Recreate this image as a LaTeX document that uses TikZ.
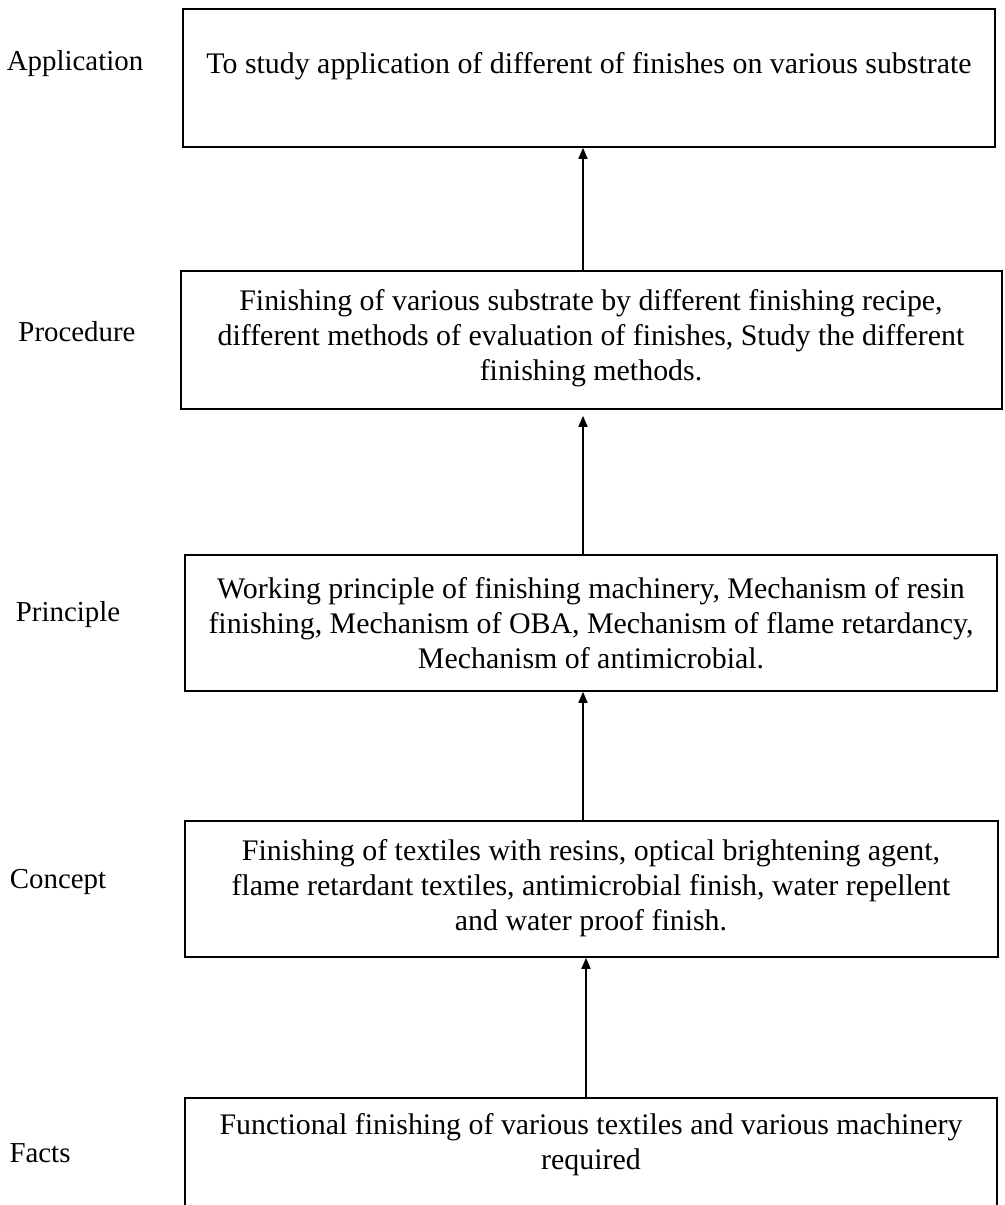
\documentclass[tikz,border=0pt]{standalone}
\usepackage{fontspec}
\setmainfont{Liberation Serif}
\usetikzlibrary{arrows.meta}
\begin{document}
\begin{tikzpicture}[x=1bp,y=-1bp,
  stagebox/.style={draw=black,line width=1.6bp,rectangle,inner sep=0pt},
  boxtext/.style={align=center,inner sep=0pt,font=\fontsize{30}{35}\selectfont},
  sidelabel/.style={inner sep=0pt,font=\fontsize{29}{33}\selectfont},
  uparrow/.style={line width=1.6bp,-{Triangle[length=11bp,width=9bp]}}]
\useasboundingbox (0,0) rectangle (1005,1205);
\clip (0,0) rectangle (1005,1205);

% stage boxes
\node[stagebox,minimum width=812bp,minimum height=138bp] (b1) at (589,78) {};
\node[stagebox,minimum width=821bp,minimum height=138bp] (b2) at (591.5,340) {};
\node[stagebox,minimum width=812bp,minimum height=136bp] (b3) at (591,623) {};
\node[stagebox,minimum width=813bp,minimum height=136bp] (b4) at (591.5,889) {};
\node[stagebox,minimum width=812bp,minimum height=136bp] (b5) at (591,1166) {};

% box contents
\node[boxtext] (t1) at (589,66) {To study application of different of finishes on various substrate};
\node[boxtext] (t2) at (591,338) {Finishing of various substrate by different finishing recipe,\\
different methods of evaluation of finishes, Study the different\\
finishing methods.};
\node[boxtext] (t3) at (591,623) {Working principle of finishing machinery, Mechanism of resin\\
finishing, Mechanism of OBA, Mechanism of flame retardancy,\\
Mechanism of antimicrobial.};
\node[boxtext] (t4) at (591,888) {Finishing of textiles with resins, optical brightening agent,\\
flame retardant textiles, antimicrobial finish, water repellent\\
and water proof finish.};
\node[boxtext] (t5) at (591,1145) {Functional finishing of various textiles and various machinery\\
required};

% level names
\node[sidelabel] (l1) at (75,64) {Application};
\node[sidelabel] (l2) at (77,332) {Procedure};
\node[sidelabel] (l3) at (68,615) {Principle};
\node[sidelabel] (l4) at (58,882) {Concept};
\node[sidelabel] (l5) at (40,1153) {Facts};

% arrows between stages
\coordinate (ax) at (583,0);
\coordinate (bx) at (586,0);
\draw[uparrow] (b2.north -| ax) -- (b1.south -| ax);
\draw[uparrow,shorten >=6bp] (b3.north -| ax) -- (b2.south -| ax);
\draw[uparrow] (b4.north -| ax) -- (b3.south -| ax);
\draw[uparrow] (b5.north -| bx) -- (b4.south -| bx);
\end{tikzpicture}
\end{document}
